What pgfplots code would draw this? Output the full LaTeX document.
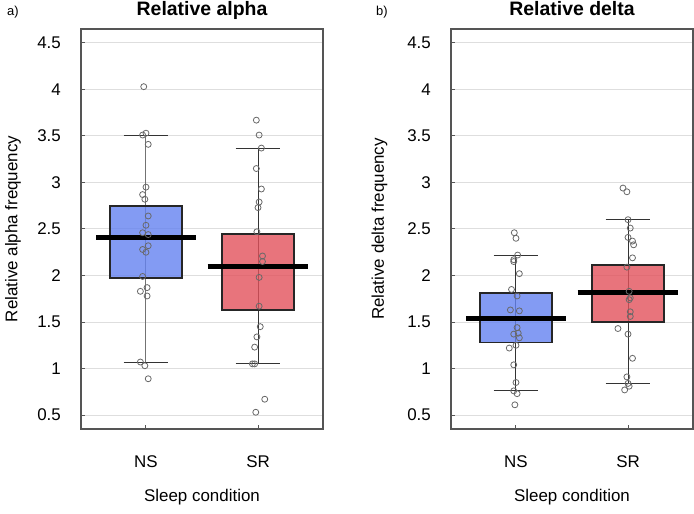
\documentclass[border=0pt]{standalone}
\usepackage{fontspec}
\setmainfont{Liberation Sans}
\usepackage{pgfplots}
\pgfplotsset{compat=1.18}

\definecolor{nsfill}{RGB}{100,130,240}
\definecolor{srfill}{RGB}{226,81,91}
\definecolor{gridgray}{RGB}{222,222,222}
\definecolor{ptgray}{RGB}{105,105,105}
\definecolor{framegray}{RGB}{85,85,85}

\pgfplotsset{
  panel/.style={
    scale only axis, width=242bp, height=400bp, anchor=south west,
    xmin=0.42, xmax=2.58, ymin=0.35, ymax=4.65,
    xtick={1,2}, xticklabels={NS,SR},
    ytick={0.5,1,1.5,2,2.5,3,3.5,4,4.5},
    ymajorgrids, grid style={gridgray, line width=1bp},
    axis line style={framegray, line width=1.1bp},
    tick pos=left, tick align=inside, major tick length=4bp,
    tick style={framegray, line width=1bp},
    /pgf/number format/assume math mode=true,
    tick label style={font=\fontsize{17}{20}\selectfont},
    yticklabel style={anchor=east, inner sep=0pt, xshift=-20bp},
    xticklabel style={anchor=center, inner sep=0pt, yshift=-33bp},
    label style={font=\fontsize{17}{20}\selectfont},
    xlabel={Sleep condition},
    xlabel style={at={(axis description cs:0.5,-0.17)}, anchor=center},
    every axis title/.style={font=\bfseries\fontsize{19.5}{22}\selectfont,
      at={(axis description cs:0.5,1)}, anchor=base, yshift=13bp, inner sep=0pt},
  },
  whisk/.style={black!80, line width=1bp},
  pts/.style={only marks, mark=o, mark size=3bp, mark options={ptgray, line width=0.8bp}},
  med/.style={black, line width=4.8bp},
}

\begin{document}
\begin{tikzpicture}
\useasboundingbox (0,0) rectangle (694bp,514bp);

% ---- a) relative alpha
\begin{axis}[panel, at={(81bp,85bp)},
  title={Relative alpha}, ylabel={Relative alpha frequency},
  ylabel style={at={(axis description cs:-0.281,0.5)}, anchor=center}]
% NS
\addplot[black!55, line width=1bp] coordinates {(1,1.07)(1,3.51)};
\addplot[whisk] coordinates {(0.8,1.07)(1.2,1.07)};
\addplot[whisk] coordinates {(0.8,3.51)(1.2,3.51)};
\addplot[pts] coordinates {
  (0.98,4.03)(0.97,3.51)(1.00,3.53)(1.02,3.41)(1.00,2.95)(0.97,2.87)(0.99,2.82)
  (1.02,2.64)(1.00,2.54)(0.97,2.46)(1.02,2.44)(1.02,2.32)(0.97,2.28)(1.00,2.25)
  (0.97,1.99)(1.01,1.87)(0.95,1.83)(1.01,1.78)(0.95,1.07)(0.99,1.03)(1.02,0.89)};
\addplot[draw=black!85, line width=1.8bp, fill=nsfill, fill opacity=0.8]
  coordinates {(0.68,1.97)(1.32,1.97)(1.32,2.75)(0.68,2.75)} -- cycle;
\addplot[med] coordinates {(0.554,2.41)(1.446,2.41)};
% SR
\addplot[whisk] coordinates {(2,1.05)(2,3.37)};
\addplot[whisk] coordinates {(1.8,1.05)(2.2,1.05)};
\addplot[whisk] coordinates {(1.8,3.37)(2.2,3.37)};
\addplot[pts] coordinates {
  (1.985,3.67)(2.01,3.51)(2.03,3.37)(1.985,3.15)(2.03,2.93)(2.01,2.79)(2.00,2.73)
  (1.99,2.47)(2.04,2.21)(2.04,2.15)(2.01,1.98)(2.01,1.67)(2.02,1.45)(1.99,1.34)
  (1.97,1.23)(1.95,1.05)(1.97,1.05)(2.06,0.67)(1.98,0.53)};
\addplot[draw=black!85, line width=1.8bp, fill=srfill, fill opacity=0.8]
  coordinates {(1.68,1.63)(2.32,1.63)(2.32,2.45)(1.68,2.45)} -- cycle;
\addplot[med] coordinates {(1.55,2.10)(2.45,2.10)};
\end{axis}

% ---- b) relative delta
\begin{axis}[panel, at={(451bp,85bp)},
  title={Relative delta}, ylabel={Relative delta frequency},
  ylabel style={at={(axis description cs:-0.295,0.5)}, anchor=center}]
% NS
\addplot[whisk] coordinates {(1,0.76)(1,2.22)};
\addplot[whisk] coordinates {(0.8,0.76)(1.2,0.76)};
\addplot[whisk] coordinates {(0.8,2.22)(1.2,2.22)};
\addplot[pts] coordinates {
  (0.985,2.46)(1.00,2.40)(1.015,2.22)(0.98,2.17)(0.98,2.15)(1.03,2.02)(0.96,1.85)
  (1.01,1.78)(0.95,1.63)(1.03,1.62)(1.01,1.44)(1.02,1.38)(0.98,1.37)(1.03,1.33)
  (1.00,1.25)(0.94,1.22)(0.98,1.04)(1.00,0.85)(0.98,0.76)(1.01,0.73)(0.99,0.61)};
\addplot[draw=black!85, line width=1.8bp, fill=nsfill, fill opacity=0.8]
  coordinates {(0.68,1.28)(1.32,1.28)(1.32,1.81)(0.68,1.81)} -- cycle;
\addplot[med] coordinates {(0.554,1.54)(1.446,1.54)};
% SR
\addplot[whisk] coordinates {(2,0.84)(2,2.60)};
\addplot[whisk] coordinates {(1.8,0.84)(2.2,0.84)};
\addplot[whisk] coordinates {(1.8,2.60)(2.2,2.60)};
\addplot[pts] coordinates {
  (1.955,2.94)(1.99,2.90)(2.00,2.60)(2.02,2.51)(2.00,2.41)(2.04,2.37)(2.05,2.33)
  (2.04,2.19)(1.99,2.09)(2.01,1.83)(2.02,1.76)(2.01,1.74)(2.02,1.61)(2.02,1.56)
  (1.91,1.43)(2.00,1.37)(2.04,1.11)(1.99,0.91)(2.00,0.84)(2.01,0.81)(1.97,0.77)};
\addplot[draw=black!85, line width=1.8bp, fill=srfill, fill opacity=0.8]
  coordinates {(1.68,1.50)(2.32,1.50)(2.32,2.11)(1.68,2.11)} -- cycle;
\addplot[med] coordinates {(1.55,1.82)(2.45,1.82)};
\end{axis}

\node[anchor=base west, inner sep=0pt, font=\fontsize{13}{15}\selectfont] at (7bp,498bp) {a)};
\node[anchor=base west, inner sep=0pt, font=\fontsize{13}{15}\selectfont] at (376bp,498bp) {b)};
\end{tikzpicture}
\end{document}
